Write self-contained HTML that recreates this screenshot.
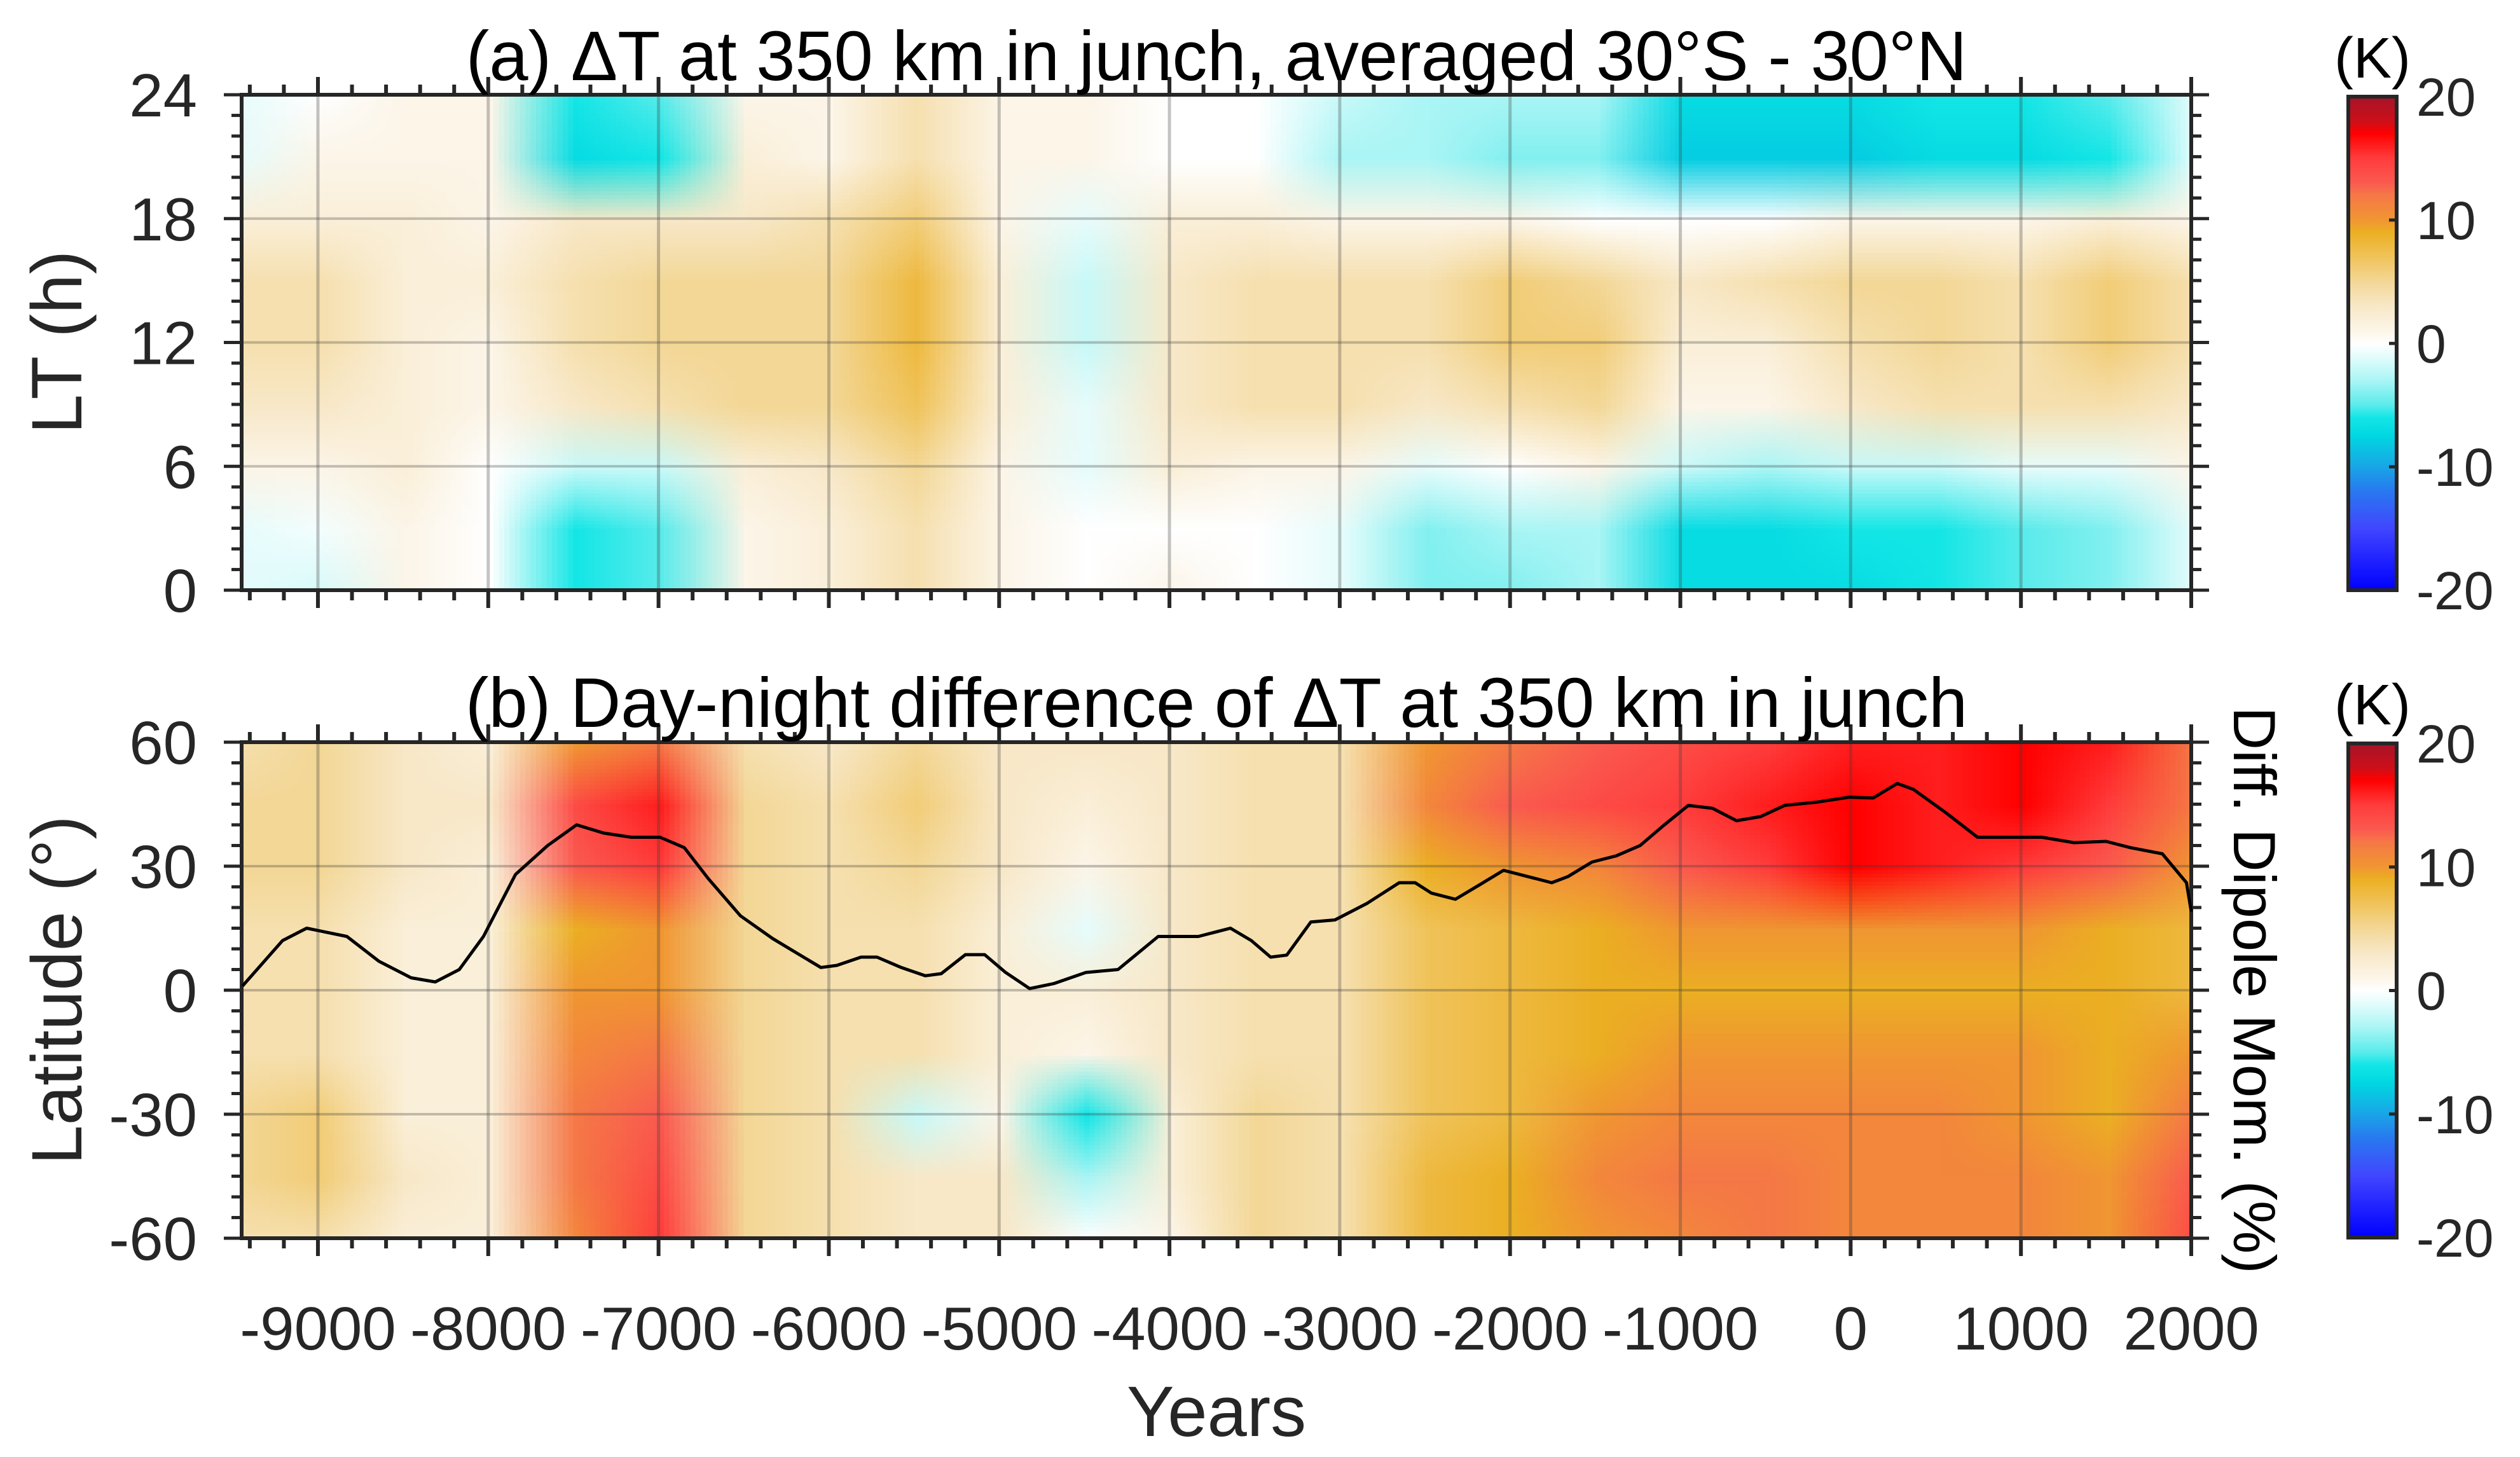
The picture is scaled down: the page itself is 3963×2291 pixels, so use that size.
<!DOCTYPE html>
<html><head><meta charset="utf-8">
<style>
html,body{margin:0;padding:0;background:#fff;}
#root{position:relative;width:3963px;height:2291px;overflow:hidden;font-family:"Liberation Sans",sans-serif;}
.hm{position:absolute;overflow:hidden;}
.hm canvas{position:absolute;}
svg{position:absolute;left:0;top:0;}
</style></head>
<body>
<div id="root">
<div class="hm" id="hmA" style="left:380px;top:149px;width:3066px;height:779px"><canvas id="cA"></canvas></div>
<div class="hm" id="hmB" style="left:380px;top:1167px;width:3066px;height:780px"><canvas id="cB"></canvas></div>
<svg id="svg" width="3963" height="2291"></svg>
</div>
<script>
// ---- data ----
const years = [-9500,-9000,-8500,-8000,-7500,-7000,-6500,-6000,-5500,-5000,-4500,-4000,-3500,-3000,-2500,-2000,-1500,-1000,-500,0,500,1000,1500,2000];
const ltRows = [0,3,6,9,12,15,18,21,24];
const latRows = [-60,-45,-30,-15,0,15,30,45,60];
const dtLT0  = [-1,-1.5,1,0,-6,-5,1,2,4,1,0,1,0,-1,-4,-4,-3,-7,-7,-7,-6,-5,-4,-1];
const dtLT3  = [-1,-0.5,1,0,-6,-5,1,2,4,1,0,0,0,-1,-4,-3,-3,-7,-7,-6,-6,-5,-4,-1];
const dtLT6  = [1,1,2,0,-2,-2,2,3,5,1,-1,2,1,1,-1,0,1,-2,-3,-2,-2,-1,-1,1];
const dtLT9  = [3,3,2,1,3,4,5,5,7,2,-1,3,4,4,3,4,5,1,1,3,4,4,4,3];
const dtLT12 = [4,4,2,1,4,5,5,5,8,2,-2,3,4,4,4,6,6,2,2,4,5,4,6,4];
const dtLT15 = [4,4,2,2,4,5,5,5,8,2,-2,3,4,4,4,6,5,3,4,5,5,4,6,4];
const dtLT18 = [2,2,2,1,3,3,3,4,6,1,-1,2,2,1,1,1,0,0,0,1,1,1,2,1];
const dtLT21 = [-1,1,1,1,-7,-6,2,1,4,1,1,0,0,-3,-3,-4,-4,-8,-8,-8,-7,-7,-6,-1];
const dtLT24 = [-1,0,1,1,-6,-5,1,1,4,1,1,0,0,-2,-3,-3,-3,-7,-7,-7,-6,-6,-5,-1];
const dnLatM60 = [4,4,2,2,11,15,5,4,3,3,0,1,5,4,8,9,10,11,12,11,11,11,10,14];
const dnLatM45 = [5,6,3,2,12,14,5,4,3,3,-3,2,5,4,8,9,11,12,12,11,11,11,10,13];
const dnLatM30 = [5,6,2,2,12,13,5,4,-2,1,-6,2,5,4,7,8,10,11,11,11,11,10,9,12];
const dnLatM15 = [4,4,2,2,11,12,5,4,4,2,1,3,4,4,7,8,9,10,10,10,10,10,9,10];
const dnLat0   = [4,4,2,2,10,10,5,4,4,2,2,3,4,4,7,8,9,9,9,9,9,9,9,8];
const dnLat15  = [4,4,2,2,9,10,5,4,4,2,-1,3,4,4,7,8,9,10,10,10,10,10,9,8];
const dnLat30  = [5,5,3,2,13,15,5,4,5,3,1,3,4,4,9,10,11,13,15,17,16,15,13,10];
const dnLat45  = [5,5,3,3,14,16,5,4,6,3,2,3,4,4,11,13,14,15,16,17,16,17,15,12];
const dnLat60  = [4,5,3,2,10,12,4,3,5,3,3,3,4,4,10,12,13,14,15,16,16,17,16,12];
const dipoleYears = [-9443,-9208,-9066,-8830,-8642,-8453,-8311,-8170,-8028,-7840,-7651,-7481,-7321,-7160,-6991,-6849,-6708,-6519,-6330,-6189,-6047,-5953,-5811,-5717,-5575,-5434,-5340,-5198,-5085,-4962,-4821,-4679,-4491,-4302,-4066,-3830,-3642,-3519,-3406,-3311,-3170,-3028,-2840,-2651,-2557,-2462,-2321,-2179,-2038,-1896,-1755,-1660,-1519,-1377,-1236,-1094,-953,-811,-670,-528,-387,-198,-9,132,274,368,557,745,934,1123,1311,1500,1642,1830,1972,2000];
const dipoleDiff = [1,12,15,13,7,3,2,5,13,28,35,40,38,37,37,34.5,27,18,12.5,9,5.5,6,8,8,5.5,3.5,4,8.6,8.6,4.3,0.4,1.6,4.3,5,13,13,15,12,8,8.5,16.5,17,21,26,26,23.5,22,25.5,29,27.5,26,27.5,31,32.5,35,40,44.7,44,41,42,44.7,45.5,46.7,46.5,50,48.6,43,37,37,37,35.7,36,34.5,33,26,19];
const xTicks = [-9000,-8000,-7000,-6000,-5000,-4000,-3000,-2000,-1000,0,1000,2000];
const ltTicks = [0,6,12,18,24];
const latTicks = [-60,-30,0,30,60];
const cbTicks = [-20,-10,0,10,20];

// ---- geometry ----
const X0=380,X1=3446, XMIN=-9448, XMAX=2000;
const A0=149,A1=928, B0=1167,B1=1947;
const xs = v => X0+(v-XMIN)/(XMAX-XMIN)*(X1-X0);
const yA = v => A1-(v/24)*(A1-A0);
const yB = v => B1-((v+60)/120)*(B1-B0);

const stops=[[-20,[0,0,255]],[-15,[65,70,255]],[-12,[40,120,240]],[-10,[25,165,230]],[-7.5,[0,215,225]],[-6,[20,230,230]],[-5,[90,235,235]],[-3,[170,245,245]],[-1,[230,252,252]],[0,[255,255,255]],[1,[252,245,232]],[3,[248,232,200]],[5,[243,215,150]],[7,[240,195,90]],[9,[235,175,35]],[10,[240,150,50]],[12,[245,120,70]],[13,[250,90,80]],[15,[255,60,60]],[17,[255,0,0]],[18,[205,15,25]],[20,[165,20,40]]];
function cmap(v){v=Math.max(-20,Math.min(20,v));for(let i=0;i<stops.length-1;i++){const a=stops[i],b=stops[i+1];if(v<=b[0]){const t=(v-a[0])/(b[0]-a[0]);return a[1].map((c,k)=>Math.round(c+(b[1][k]-c)*t));}}return stops[stops.length-1][1];}

function drawHM(id,rows,rowVals,yfun,top){
  const cv=document.getElementById(id);
  const nx=years.length, ny=rows.length;
  cv.width=nx; cv.height=ny;
  const ctx=cv.getContext('2d');
  const img=ctx.createImageData(nx,ny);
  for(let j=0;j<ny;j++){const r=rowVals[ny-1-j];for(let i=0;i<nx;i++){const c=cmap(r[i]);const p=(j*nx+i)*4;img.data[p]=c[0];img.data[p+1]=c[1];img.data[p+2]=c[2];img.data[p+3]=255;}}
  ctx.putImageData(img,0,0);
  const dy=years[1]-years[0], dr=rows[1]-rows[0];
  const left=xs(years[0]-dy/2)-X0, right=xs(years[nx-1]+dy/2)-X0;
  const t=yfun(rows[ny-1]+dr/2)-top, b=yfun(rows[0]-dr/2)-top;
  cv.style.left=left+'px';cv.style.top=t+'px';cv.style.width=(right-left)+'px';cv.style.height=(b-t)+'px';
}
drawHM('cA',ltRows,[dtLT0,dtLT3,dtLT6,dtLT9,dtLT12,dtLT15,dtLT18,dtLT21,dtLT24],yA,A0);
drawHM('cB',latRows,[dnLatM60,dnLatM45,dnLatM30,dnLatM15,dnLat0,dnLat15,dnLat30,dnLat45,dnLat60],yB,B0);

const svg=document.getElementById('svg');
const NS='http://www.w3.org/2000/svg';
function el(tag,attrs,parent){const e=document.createElementNS(NS,tag);for(const k in attrs)e.setAttribute(k,attrs[k]);(parent||svg).appendChild(e);return e;}
function txt(s,attrs){const e=el('text',Object.assign({fill:'#262626','font-family':'Liberation Sans, sans-serif'},attrs));e.textContent=s;return e;}

const defs=el('defs',{});
const lg=el('linearGradient',{id:'cbg',x1:0,y1:1,x2:0,y2:0},defs);
stops.forEach(s=>{el('stop',{offset:((s[0]+20)/40),'stop-color':'rgb('+s[1].join(',')+')'},lg);});

function panel(top,bot,yfun,yt,minorStep,ymin,ymax,name){
  xTicks.forEach(t=>{const g=el('line',{x1:xs(t),x2:xs(t),y1:top,y2:bot,stroke:'rgba(60,60,60,0.3)','stroke-width':5});
    });
  yt.forEach(t=>{const g=el('line',{x1:X0,x2:X1,y1:yfun(t),y2:yfun(t),stroke:'rgba(60,60,60,0.3)','stroke-width':4});
    });
  const f=el('rect',{x:X0,y:top,width:X1-X0,height:bot-top,fill:'none',stroke:'#262626','stroke-width':6});
  
  for(let v=-9400;v<=2000;v+=200){const maj=(v%1000===0);const L=maj?28:16;
    el('line',{x1:xs(v),x2:xs(v),y1:bot,y2:bot+L,stroke:'#262626','stroke-width':6});
    el('line',{x1:xs(v),x2:xs(v),y1:top,y2:top-L,stroke:'#262626','stroke-width':6});}
  for(let v=ymin;v<=ymax+1e-6;v+=minorStep){const maj=yt.some(t=>Math.abs(t-v)<1e-6);const L=maj?28:16;
    el('line',{x1:X0,x2:X0-L,y1:yfun(v),y2:yfun(v),stroke:'#262626','stroke-width':5});
    el('line',{x1:X1,x2:X1+L,y1:yfun(v),y2:yfun(v),stroke:'#262626','stroke-width':5});}
  yt.forEach(t=>{const e=txt(String(t),{x:310,y:yfun(t)+34,'font-size':96,'text-anchor':'end'});
    });
}
panel(A0,A1,yA,ltTicks,1,0,24,'panel-a');
panel(B0,B1,yB,latTicks,5,-60,60,'panel-b');

xTicks.forEach(t=>{const e=txt(String(t),{x:xs(t),y:2122,'font-size':96,'text-anchor':'middle'});
  });

let d='';dipoleYears.forEach((yv,i)=>{d+=(i?'L':'M')+xs(yv).toFixed(1)+','+yB(dipoleDiff[i]).toFixed(1);});
const dl=el('path',{d:d,fill:'none',stroke:'#000','stroke-width':5,'stroke-linejoin':'round'});


function cbar(top,bot,name){
  const r=el('rect',{x:3693,y:top,width:76,height:bot-top,fill:'url(#cbg)',stroke:'#262626','stroke-width':6});
  
  cbTicks.forEach(t=>{const y=bot-(t+20)/40*(bot-top);
    el('line',{x1:3769,x2:3757,y1:y,y2:y,stroke:'#262626','stroke-width':5});
    const e=txt(String(t),{x:3800,y:y+30,'font-size':84,'text-anchor':'start'});
    });
  const k=txt('(K)',{x:3731,y:top-30,'font-size':90,'text-anchor':'middle',fill:'#000'});
  
}
cbar(152,928,'colorbar-a');
cbar(1169,1946,'colorbar-b');

let e;
e=txt('(a) ΔT at 350 km in junch, averaged 30°S - 30°N',{x:1913,y:126,'font-size':110,'text-anchor':'middle',fill:'#000'});

e=txt('(b) Day-night difference of ΔT at 350 km in junch',{x:1913,y:1143,'font-size':110,'text-anchor':'middle',fill:'#000'});

e=txt('LT (h)',{x:0,y:0,'font-size':112,'text-anchor':'middle',transform:'translate(128,538) rotate(-90)'});

e=txt('Latitude (°)',{x:0,y:0,'font-size':112,'text-anchor':'middle',transform:'translate(128,1557) rotate(-90)'});

e=txt('Diff. Dipole Mom. (%)',{x:0,y:0,'font-size':94,'text-anchor':'middle',fill:'#000',transform:'translate(3513,1557) rotate(90)'});

e=txt('Years',{x:1913,y:2258,'font-size':112,'text-anchor':'middle'});

</script>
</body></html>
